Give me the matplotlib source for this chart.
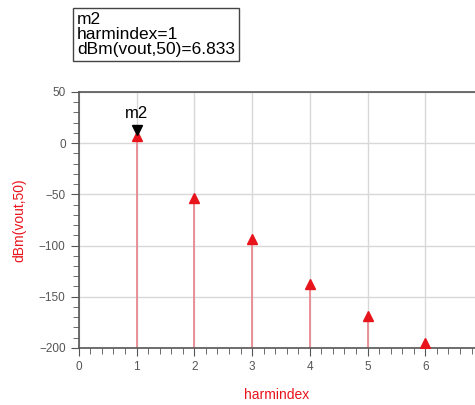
import matplotlib.pyplot as plt
import matplotlib.ticker as ticker

harmindex = [1, 2, 3, 4, 5, 6]
dbm = [6.833, -54, -94, -138, -169, -195]
marker_label = 'm2'
marker_text = 'm2\nharmindex=1\ndBm(vout,50)=6.833'

plt.rcParams['font.family'] = ['Liberation Sans', 'DejaVu Sans']

fig = plt.figure(figsize=(4.75, 4.05), dpi=100)
ax = fig.add_axes([0.166, 0.141, 0.834, 0.632])

red = '#e8141c'
ax.vlines(harmindex, -200, dbm, color='#e88a92', lw=1.3, zorder=2)
ax.plot(harmindex, dbm, ls='none', marker='^', ms=6.5, color=red, zorder=3)

# marker m2
ax.plot(harmindex[0], dbm[0] + 6, ls='none', marker='v', ms=6.5, color='black', zorder=4)
ax.text(harmindex[0], dbm[0] + 15, marker_label, ha='center', va='bottom', fontsize=12)

ax.set_xlim(0, 6.86)
ax.set_ylim(-200, 50)
ax.xaxis.set_major_locator(ticker.MultipleLocator(1))
ax.xaxis.set_minor_locator(ticker.MultipleLocator(0.2))
ax.yaxis.set_major_locator(ticker.MultipleLocator(50))
ax.yaxis.set_minor_locator(ticker.MultipleLocator(10))
ax.grid(True, which='major', color='#d8d8d8', lw=1)
ax.set_axisbelow(True)

ax.spines['right'].set_visible(False)
for s in ['left', 'bottom', 'top']:
    ax.spines[s].set_color('#555555')
    ax.spines[s].set_linewidth(1.2)

ax.tick_params(which='major', direction='out', length=6, color='#555555',
               labelsize=8.5, labelcolor='#555555')
ax.tick_params(which='minor', direction='out', length=4, color='#555555')

ax.set_xlabel('harmindex', color=red, fontsize=10, labelpad=11)
ax.set_ylabel('dBm(vout,50)', color=red, fontsize=10, labelpad=9)

fig.text(0.162, 0.915, marker_text, fontsize=12.5, va='center', ha='left',
         linespacing=1.0,
         bbox=dict(boxstyle='square,pad=0.25', fc='white', ec='#444444', lw=1))

fig.savefig('out.png', dpi=100)
